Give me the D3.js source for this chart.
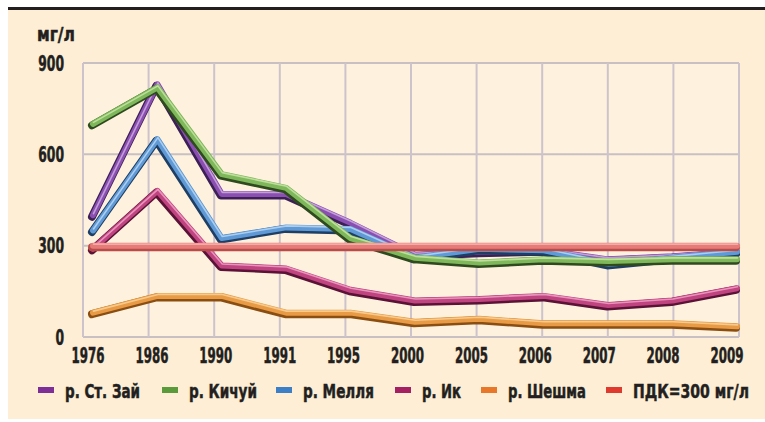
<!DOCTYPE html>
<html><head><meta charset="utf-8">
<script src="https://cdn.jsdelivr.net/npm/d3@7"></script>
<style>
html,body{margin:0;padding:0;background:#fff;}
svg{display:block;}
text{font-family:"DejaVu Sans Condensed","DejaVu Sans",sans-serif;font-stretch:condensed;font-weight:bold;fill:#231f20;stroke:#231f20;stroke-width:0.5;}
</style></head>
<body>
<svg id="c" width="765" height="422"></svg>
<script>
const years = ["1976","1986","1990","1991","1995","2000","2005","2006","2007","2008","2009"];
const yTicks = [0, 300, 600, 900];
const unitLabel = "мг/л";
const zai    = [400, 830, 470, 470, 375, 270, 280, 285, 255, 265, 280];
const kichuy = [700, 820, 535, 490, 325, 260, 245, 255, 250, 255, 255];
const mellya = [350, 650, 325, 360, 355, 260, 290, 285, 240, 260, 280];
const ik     = [290, 480, 235, 225, 155, 120, 125, 135, 105, 120, 160];
const sheshma= [80, 135, 135, 80, 80, 50, 60, 45, 45, 45, 35];
const pdk    = [300, 300, 300, 300, 300, 300, 300, 300, 300, 300, 300];
const seriesNames = ["р. Ст. Зай","р. Кичуй","р. Мелля","р. Ик","р. Шешма","ПДК=300 мг/л"];

const colors = {
  "р. Ст. Зай":  {main:"#8a4fb0", dark:"#3b1f55", light:"#c9a6dd", legend:"#7d2f97"},
  "р. Кичуй":    {main:"#7fb85a", dark:"#2f4a1f", light:"#c5e2a5", legend:"#5a9a3a"},
  "р. Мелля":    {main:"#5f9ad6", dark:"#1f3e63", light:"#b5d3f0", legend:"#3c7fc6"},
  "р. Ик":       {main:"#c0447f", dark:"#5a1236", light:"#ec9cc4", legend:"#a51f63"},
  "р. Шешма":    {main:"#e89a45", dark:"#8a4e12", light:"#f7cf95", legend:"#e8772a"},
  "ПДК=300 мг/л":{main:"#e77b78", dark:"#b84c4a", light:"#f5b0ac", legend:"#e03a2e"}
};
const data = {
  "р. Ст. Зай": zai, "р. Кичуй": kichuy, "р. Мелля": mellya,
  "р. Ик": ik, "р. Шешма": sheshma, "ПДК=300 мг/л": pdk
};
const drawOrder = ["р. Ст. Зай","р. Мелля","р. Кичуй","р. Ик","р. Шешма","ПДК=300 мг/л"];

const svg = d3.select("#c");
svg.append("rect").attr("x",0).attr("y",0).attr("width",765).attr("height",422).attr("fill","#fff");
svg.append("rect").attr("x",8).attr("y",10).attr("width",757).attr("height",409).attr("fill","#fdeed5");
svg.append("rect").attr("x",8).attr("y",7).attr("width",757).attr("height",3).attr("fill","#231f20");

const y = d3.scaleLinear().domain([0,900]).range([337,63]);
const xGrid = d3.scalePoint().domain(years).range([83,739]);
const xData = d3.scalePoint().domain(years).range([93,737]);
const xLab = d3.scalePoint().domain(years).range([88,727]);

svg.append("rect").attr("x",83).attr("y",63).attr("width",656).attr("height",274).attr("fill","#fef2de");
const g = svg.append("g");
g.selectAll("line.h").data(yTicks).join("line")
  .attr("x1",83).attr("x2",739).attr("y1",d=>y(d)).attr("y2",d=>y(d))
  .attr("stroke","#c9c0c4").attr("stroke-width",2);
g.selectAll("line.v").data(years).join("line")
  .attr("x1",d=>xGrid(d)).attr("x2",d=>xGrid(d)).attr("y1",63).attr("y2",337)
  .attr("stroke","#cdc3cc").attr("stroke-width",2);

// place text at (x,y) and horizontally scale it to width w
function put(parent, str, x, yy, size, w, anchor){
  const t = parent.append("text").attr("x",0).attr("y",0)
    .attr("font-size",size).attr("text-anchor",anchor||"start").text(str);
  const w0 = t.node().getComputedTextLength() || w;
  t.attr("transform",`translate(${x},${yy}) scale(${w/w0},1)`);
  return t;
}

yTicks.forEach(d=>put(svg, String(d), 64, y(d)+7.5, 21, String(d).length*8.6, "end"));
put(svg, unitLabel, 37, 41, 20, 38);
years.forEach(d=>put(svg, d, xLab(d), 363, 21, 33, "middle"));

const line = d3.line().x((d,i)=>xData(years[i])).y(d=>y(d));
drawOrder.forEach(name=>{
  const c = colors[name], vals = data[name];
  const lg = svg.append("g");
  lg.append("path").attr("d",line(vals)).attr("fill","none")
    .attr("stroke",c.dark).attr("stroke-width",8).attr("stroke-linejoin","round").attr("stroke-linecap","round")
    .attr("transform","translate(-1,1.5)");
  lg.append("path").attr("d",line(vals)).attr("fill","none")
    .attr("stroke",c.main).attr("stroke-width",6).attr("stroke-linejoin","round").attr("stroke-linecap","round");
  lg.append("path").attr("d",line(vals)).attr("fill","none")
    .attr("stroke",c.light).attr("stroke-width",1.6).attr("stroke-linejoin","round").attr("stroke-linecap","round")
    .attr("transform","translate(0.5,-1.5)").attr("opacity",0.9);
});

const legendX = [38, 162, 276, 395, 481, 606];
const legendW = [75, 68, 71, 39, 78, 116];
seriesNames.forEach((d,i)=>{
  svg.append("rect").attr("x",legendX[i]).attr("y",387).attr("width",16).attr("height",6)
    .attr("fill",colors[d].legend);
  put(svg, d, legendX[i]+27, 397.5, 20, legendW[i]);
});
</script>
</body></html>
